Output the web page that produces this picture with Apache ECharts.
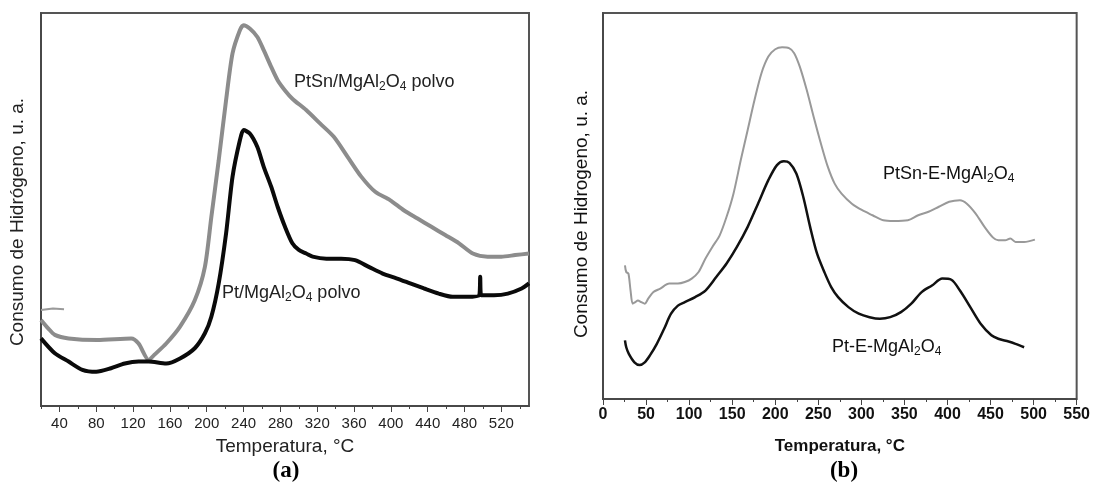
<!DOCTYPE html>
<html>
<head>
<meta charset="utf-8">
<script src="https://cdn.jsdelivr.net/npm/echarts@6/dist/echarts.min.js"></script>
<style>
  html, body { margin: 0; padding: 0; background: #fff; }
  #chart { width: 1093px; height: 490px; }
</style>
</head>
<body>
<div id="chart"></div>
<script>
// (a) powders: [temperature °C, hydrogen uptake a.u.]
const ptPowder = [
  [20, 17.2], [35, 13.4], [50, 11.3], [65, 9.2], [80, 8.7], [96, 9.6], [111, 10.8],
  [126, 11.3], [137, 11.3], [156, 10.8], [171, 12.1], [187, 14.7], [198, 18.5],
  [205, 22.7], [213, 31.2], [221, 43.9], [228, 58.3], [236, 67.6], [240, 70.2],
  [247, 69.3], [255, 65.9], [262, 60.8], [270, 55.8], [277, 50.7], [285, 45.6],
  [293, 41.4], [300, 39.7], [308, 38.8], [315, 38.0], [330, 37.5], [346, 37.5],
  [361, 37.1], [376, 35.4], [391, 33.7], [406, 32.5], [421, 31.2], [436, 29.9],
  [452, 28.6], [467, 27.8], [482, 27.8], [496, 28.2], [497, 32.9], [498, 28.2],
  [512, 28.2], [527, 28.6], [542, 29.9], [550, 31.2]
];
const ptSnPowder = [
  [20, 21.9], [28, 19.7], [35, 18.1], [50, 17.2], [81, 16.8], [118, 17.2], [126, 15.9],
  [137, 11.7], [143, 13.0], [156, 15.9], [171, 20.2], [187, 26.9], [198, 35.4],
  [205, 48.1], [213, 62.5], [221, 77.8], [228, 89.7], [236, 95.6], [240, 96.9],
  [247, 96.0], [255, 93.9], [262, 90.5], [270, 86.3], [277, 82.9], [285, 80.3],
  [293, 78.2], [308, 75.3], [323, 71.9], [338, 68.5], [353, 63.4], [368, 58.3],
  [383, 54.5], [399, 52.4], [414, 49.8], [429, 47.7], [444, 45.6], [459, 43.5],
  [474, 41.4], [489, 38.8], [505, 38.0], [520, 38.0], [535, 38.4], [550, 38.8]
];
const ptSnPowderStart = [[20, 24.4], [33, 24.8], [45, 24.6]];

// (b) extruded: [temperature °C, hydrogen uptake a.u.]
const ptSnE = [
  [25.5, 34.6], [27, 32.9], [29.5, 32.5], [32, 28.1], [34.5, 24.7], [37.5, 25.1],
  [40.5, 25.5], [44.5, 25.1], [48.5, 24.7], [52.5, 26.0], [58.5, 27.7], [66.5, 28.6],
  [77, 29.9], [87, 29.9], [95, 30.3], [103, 31.2], [111, 32.9], [119, 36.4],
  [127, 39.4], [135.5, 42.4], [143.5, 47.2], [151.5, 53.2], [160, 61.9], [168, 69.7],
  [176, 77.5], [184, 84.4], [192, 88.7], [200, 90.6], [208, 91.1], [216, 90.9],
  [222, 89.6], [228.5, 86.1], [236.5, 80.1], [244.5, 73.2], [253, 66.2], [261, 60.2],
  [269, 55.8], [277, 53.2], [289, 50.6], [301, 48.9], [313, 47.6], [325.5, 46.3],
  [337.5, 46.1], [354, 46.3], [366, 47.6], [378, 48.5], [390, 49.8], [402, 51.1],
  [414.5, 51.5], [422.5, 50.6], [432.5, 48.1], [443, 44.6], [453, 41.8], [459, 41.1],
  [467, 41.1], [473, 41.6], [479, 40.7], [489, 40.7], [501.5, 41.3]
];
const ptE = [
  [25.5, 15.2], [27, 13.4], [30, 11.7], [36.5, 9.5], [42.5, 8.8], [48.5, 9.5],
  [54.5, 11.3], [62.5, 14.3], [71, 18.2], [79, 22.1], [87, 24.2], [95, 25.1],
  [107, 26.4], [119, 28.1], [131.5, 31.6], [143.5, 35.1], [155.5, 39.4], [168, 44.6],
  [180, 50.6], [192, 56.7], [202, 60.6], [210, 61.6], [216.5, 61.2], [224.5, 58.4],
  [232.5, 52.4], [240.5, 44.6], [248.5, 37.7], [257, 32.9], [265, 29.0], [273, 26.4],
  [285, 23.8], [297, 22.1], [309.5, 21.2], [321.5, 20.8], [333.5, 21.2], [346, 22.5],
  [358, 24.7], [370, 27.7], [382, 29.4], [394, 31.2], [404.5, 30.9], [414.5, 28.1],
  [426.5, 23.8], [438.5, 19.5], [451, 16.5], [459, 15.6], [471, 14.9], [479, 14.3],
  [489, 13.4]
];

const ticksA = [40, 80, 120, 160, 200, 240, 280, 320, 360, 400, 440, 480, 520];
const minorTicksA = [20, 60, 100, 140, 180, 220, 260, 300, 340, 380, 420, 460, 500, 540];

const chart = echarts.init(document.getElementById('chart'));
const sans = 'Liberation Sans, Arial, sans-serif';
const subRich = {
  sub: { fontSize: 12, fontFamily: sans, padding: [9, 0, 0, 0] }
};

function yAxisFor(grid) {
  return {
    gridIndex: grid, type: 'value', min: 0, max: 100,
    axisLine: { show: true, lineStyle: { color: '#444', width: 1.5 } },
    axisTick: { show: false }, axisLabel: { show: false }, splitLine: { show: false }
  };
}

chart.setOption({
  animation: false,
  grid: [
    { left: 41, top: 13, width: 488, height: 393, show: true, borderColor: '#555', borderWidth: 2 },
    { left: 603, top: 13, width: 474, height: 386, show: true, borderColor: '#555', borderWidth: 2 }
  ],
  xAxis: [
    {
      gridIndex: 0, type: 'value', min: 20, max: 550,
      axisLine: { lineStyle: { color: '#444', width: 1.5 } },
      axisTick: { customValues: ticksA, length: 6, lineStyle: { color: '#444' } },
      axisLabel: { customValues: ticksA, margin: 10, fontSize: 15, fontFamily: sans, color: '#222' },
      splitLine: { show: false },
      name: 'Temperatura, °C', nameLocation: 'middle', nameGap: 31,
      nameTextStyle: { fontSize: 19, fontFamily: sans, color: '#222' }
    },
    {
      gridIndex: 0, type: 'value', min: 20, max: 550, position: 'bottom',
      axisLine: { show: false },
      axisTick: { customValues: minorTicksA, length: 3, lineStyle: { color: '#444' } },
      axisLabel: { show: false }, splitLine: { show: false }
    },
    {
      gridIndex: 1, type: 'value', min: 0, max: 550, interval: 50,
      axisLine: { lineStyle: { color: '#444', width: 1.5 } },
      axisTick: { length: 6, lineStyle: { color: '#444' } },
      minorTick: { show: true, splitNumber: 2, length: 3, lineStyle: { color: '#444' } },
      axisLabel: { margin: 8, fontSize: 16, fontWeight: 'bold', fontFamily: sans, color: '#111' },
      splitLine: { show: false },
      name: 'Temperatura, °C', nameLocation: 'middle', nameGap: 39,
      nameTextStyle: { fontSize: 17, fontWeight: 'bold', fontFamily: sans, color: '#111' }
    }
  ],
  yAxis: [yAxisFor(0), yAxisFor(1)],
  series: [
    {
      type: 'line', xAxisIndex: 0, yAxisIndex: 0, data: ptSnPowderStart, showSymbol: false,
      lineStyle: { color: '#9a9a9a', width: 2 }
    },
    {
      type: 'line', xAxisIndex: 0, yAxisIndex: 0, data: ptSnPowder, showSymbol: false, smooth: 0.25,
      lineStyle: { color: '#8c8c8c', width: 4 }
    },
    {
      type: 'line', xAxisIndex: 0, yAxisIndex: 0, data: ptPowder, showSymbol: false, smooth: 0.25,
      lineStyle: { color: '#0a0a0a', width: 4 }
    },
    {
      type: 'line', xAxisIndex: 2, yAxisIndex: 1, data: ptSnE, showSymbol: false, smooth: 0.3,
      lineStyle: { color: '#999', width: 2 }
    },
    {
      type: 'line', xAxisIndex: 2, yAxisIndex: 1, data: ptE, showSymbol: false, smooth: 0.3,
      lineStyle: { color: '#111', width: 2.5 }
    }
  ],
  graphic: [
    {
      type: 'text', x: 18, y: 222, rotation: Math.PI / 2,
      style: { text: 'Consumo de Hidrógeno, u. a.', fontSize: 19, fontFamily: sans, fill: '#222',
        align: 'center', verticalAlign: 'middle' }
    },
    {
      type: 'text', x: 582, y: 214, rotation: Math.PI / 2,
      style: { text: 'Consumo de Hidrogeno, u. a.', fontSize: 19, fontFamily: sans, fill: '#111',
        align: 'center', verticalAlign: 'middle' }
    },
    {
      type: 'text', x: 294, y: 82,
      style: { text: 'PtSn/MgAl{sub|2}O{sub|4} polvo', rich: subRich, fontSize: 18, fontFamily: sans,
        fill: '#222', verticalAlign: 'middle' }
    },
    {
      type: 'text', x: 222, y: 293,
      style: { text: 'Pt/MgAl{sub|2}O{sub|4} polvo', rich: subRich, fontSize: 18, fontFamily: sans,
        fill: '#222', verticalAlign: 'middle' }
    },
    {
      type: 'text', x: 883, y: 174,
      style: { text: 'PtSn-E-MgAl{sub|2}O{sub|4}', rich: subRich, fontSize: 18, fontFamily: sans,
        fill: '#111', verticalAlign: 'middle' }
    },
    {
      type: 'text', x: 832, y: 347,
      style: { text: 'Pt-E-MgAl{sub|2}O{sub|4}', rich: subRich, fontSize: 18, fontFamily: sans,
        fill: '#111', verticalAlign: 'middle' }
    },
    {
      type: 'text', x: 286, y: 471,
      style: { text: '(a)', fontSize: 23, fontWeight: 'bold', fontFamily: 'Liberation Serif, serif',
        fill: '#000', align: 'center', verticalAlign: 'middle' }
    },
    {
      type: 'text', x: 844, y: 471,
      style: { text: '(b)', fontSize: 23, fontWeight: 'bold', fontFamily: 'Liberation Serif, serif',
        fill: '#000', align: 'center', verticalAlign: 'middle' }
    }
  ]
});
</script>
</body>
</html>
